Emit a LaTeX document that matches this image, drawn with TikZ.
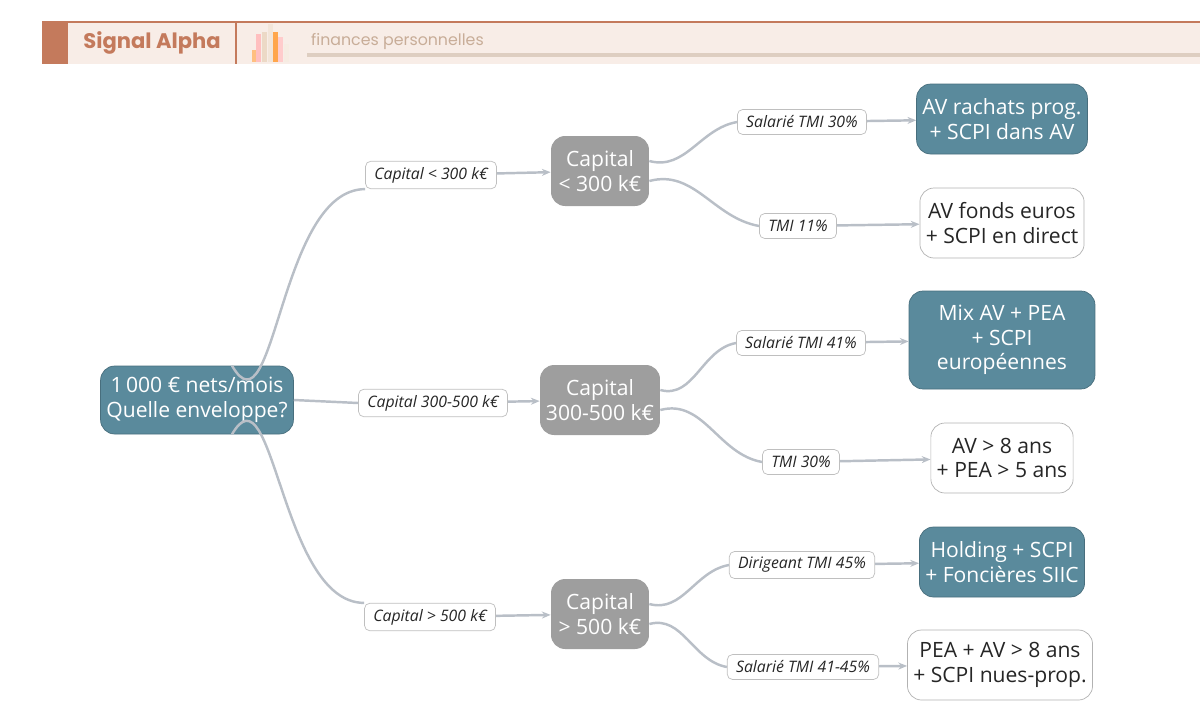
\documentclass[tikz,border=0pt]{standalone}
\usepackage{fontspec}
\setmainfont{Open Sans}
\newfontfamily\headfont{Poppins}
\usetikzlibrary{positioning,arrows.meta}
\definecolor{teal}{HTML}{5A8A9C}
\definecolor{capgray}{HTML}{9E9E9E}
\definecolor{linkgray}{HTML}{B9BFC7}
\definecolor{rust}{HTML}{C47A5C}
\definecolor{cream}{HTML}{F8EDE7}
\definecolor{sand}{HTML}{C8AD98}
\tikzset{
  root/.style={draw=teal!80!black, fill=teal, text=white, rounded corners=8pt, minimum width=3.6cm, minimum height=1.36cm, align=center, font=\large},
  capital/.style={fill=capgray, text=white, rounded corners=8pt, minimum height=1.4cm, align=center, font=\large},
  leafdark/.style={draw=teal!80!black, fill=teal, text=white, rounded corners=8pt, minimum height=1.4cm, align=center, font=\large},
  leaflight/.style={draw=gray!60, fill=white, text=black!85, rounded corners=8pt, minimum height=1.4cm, align=center, font=\large},
  tag/.style={draw=gray!50, fill=white, rounded corners=3pt, font=\small\itshape, text=black!85, inner xsep=5pt, minimum height=0.5cm},
  link/.style={draw=linkgray, line width=1.4pt},
  arrow/.style={link, -{Stealth[length=5pt,width=4pt]}}
}
\begin{document}
\begin{tikzpicture}[x=0.02cm,y=-0.02cm]
  \useasboundingbox (0,0) rectangle (1200,721);
  % header
  \fill[cream] (42,22) rectangle (1200,64);
  \draw[rust, line width=0.8pt] (42,22) -- (1200,22);
  \fill[rust] (42,22) rectangle (68,64);
  \draw[rust, line width=0.6pt] (236,22) -- (236,64);
  \node (brand) at (152,43) {\headfont\bfseries\color{rust}\large Signal Alpha};
  \foreach \x/\h/\c in {252/12/orange!50, 256/28/red!25, 262/30/brown!30, 268/38/brown!20, 273/30/orange!70, 278/25/red!20, 284/18/brown!15}
    \fill[\c] (\x,62) rectangle ++(5,-\h);
  \fill[sand!60] (307,53) rectangle (1200,57);
  \node[anchor=west] (sub) at (305,42) {\headfont\color{sand}\small finances personnelles};
  % nodes
  \node[root] (start) at (197,400) {1\,000 € nets/mois\\Quelle enveloppe?};
  \node[capital, minimum width=1.96cm] (cap1) at (600,171) {Capital\\< 300 k€};
  \node[capital, minimum width=2.4cm] (cap2) at (600,400) {Capital\\300-500 k€};
  \node[capital, minimum width=1.96cm] (cap3) at (600,614) {Capital\\> 500 k€};
  \node[tag] (t1) at (431,175) {Capital < 300 k€};
  \node[tag] (t2) at (433,403) {Capital 300-500 k€};
  \node[tag] (t3) at (430,617) {Capital > 500 k€};
  \node[leafdark, minimum width=3.32cm] (a1) at (1002,119) {AV rachats prog.\\+ SCPI dans AV};
  \node[leaflight, minimum width=3.24cm] (a2) at (1002,223) {AV fonds euros\\+ SCPI en direct};
  \node[leafdark, minimum width=3.72cm, minimum height=1.96cm] (b1) at (1002,340) {Mix AV + PEA\\+ SCPI\\européennes};
  \node[leaflight, minimum width=2.76cm] (b2) at (1002,458) {AV > 8 ans\\+ PEA > 5 ans};
  \node[leafdark, minimum width=3.24cm] (d1) at (1002,562) {Holding + SCPI\\+ Foncières SIIC};
  \node[leaflight, minimum width=3.44cm] (d2) at (1000,665) {PEA + AV > 8 ans\\+ SCPI nues-prop.};
  \node[tag] (s1) at (802,122) {Salarié TMI 30\%};
  \node[tag] (s2) at (798,226) {TMI 11\%};
  \node[tag] (s3) at (801,343) {Salarié TMI 41\%};
  \node[tag] (s4) at (801,462) {TMI 30\%};
  \node[tag] (s5) at (802,565) {Dirigeant TMI 45\%};
  \node[tag] (s6) at (803,667) {Salarié TMI 41-45\%};
  % links
  \draw[link] (start.north) ++(35,0) coordinate (o1) to[out=-60,in=180] (t1.south west);
  \draw[link] (start.east) -- (t2.west);
  \draw[link] (start.south) ++(35,0) coordinate (o3) to[out=60,in=180] (t3.north west);
  \foreach \t/\c in {t1/cap1, t2/cap2, t3/cap3}
    \draw[arrow] (\t) -- (\c);
  \foreach \c/\sa/\sb in {cap1/s1/s2, cap2/s3/s4, cap3/s5/s6} {
    \draw[link] (\c.east) ++(0,-10) to[out=-15,in=190] (\sa.west);
    \draw[link] (\c.east) ++(0,10) to[out=15,in=170] (\sb.west);
  }
  \foreach \s/\l in {s1/a1, s2/a2, s3/b1, s4/b2, s5/d1, s6/d2}
    \draw[arrow] (\s) -- (\l);
\end{tikzpicture}
\end{document}
